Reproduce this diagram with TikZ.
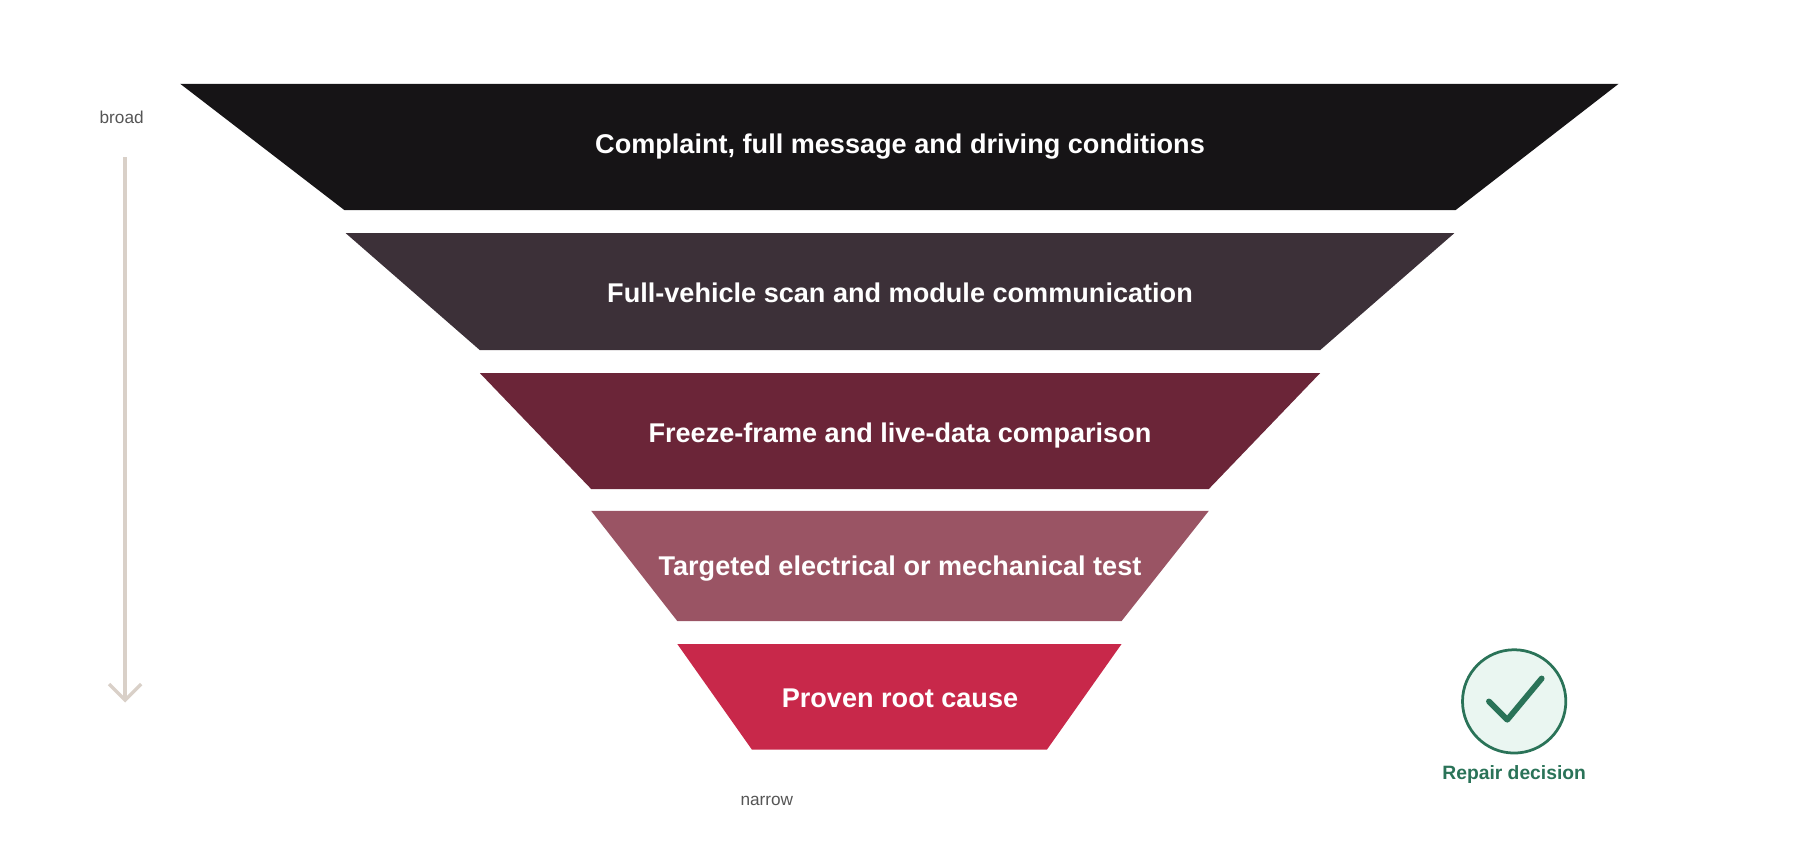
\documentclass[tikz,border=0pt]{standalone}
\usepackage{fontspec}
\setmainfont{Liberation Sans}
\usetikzlibrary{arrows.meta}
\definecolor{lvA}{HTML}{161416}
\definecolor{lvB}{HTML}{3C3038}
\definecolor{lvC}{HTML}{6B2538}
\definecolor{lvD}{HTML}{9A5464}
\definecolor{lvE}{HTML}{C8284A}
\definecolor{axisC}{HTML}{D9D0C8}
\definecolor{okC}{HTML}{2A7358}
\definecolor{okF}{HTML}{EAF6F1}
\definecolor{greyT}{HTML}{555555}
\tikzset{
  level/.style={text=white, font=\fontsize{11.8}{14}\selectfont\bfseries},
  side/.style={text=greyT, font=\fontsize{7.5}{9}\selectfont}
}
\begin{document}
\begin{tikzpicture}[x=0.5pt,y=-0.5pt]
      \useasboundingbox (0,0) rectangle (1568,732);
      % Funnel levels
      \fill[lvA] (157,73) -- (1410,73) -- (1268,183) -- (300,183) -- cycle;
      \fill[lvB] (301,203) -- (1267,203) -- (1150,305) -- (418,305) -- cycle;
      \fill[lvC] (418,325) -- (1150,325) -- (1053,426) -- (515,426) -- cycle;
      \fill[lvD] (515,445) -- (1053,445) -- (977,541) -- (590,541) -- cycle;
      \fill[lvE] (590,561) -- (977,561) -- (912,653) -- (655,653) -- cycle;
      \node[level] (L1) at (784,128) {Complaint, full message and driving conditions};
      \node[level] (L2) at (784,255) {Full-vehicle scan and module communication};
      \node[level] (L3) at (784,379) {Freeze-frame and live-data comparison};
      \node[level] (L4) at (784,495) {Targeted electrical or mechanical test};
      \node[level] (L5) at (784,608) {Proven root cause};
      % Side axis
      \node[side] (broad) at (106,102) {broad};
      \node[side] (narrow) at (668,698) {narrow};
      \coordinate (top) at (109,137);
      \coordinate (bot) at (109,612);
      \draw[axisC, line width=1.5pt, -{Straight Barb[length=7pt, width=14pt]}] (top) -- (bot);
      % Repair decision
      \node[draw=okC, fill=okF, circle, line width=1.2pt, minimum size=45pt] (ok) at (1319,611) {};
      \draw[okC, line width=2.5pt, line cap=round, line join=round]
        ([shift={(-22,0)}]ok.center) -- ([shift={(-6,16)}]ok.center) -- ([shift={(24,-20)}]ok.center);
      \node[text=okC, font=\fontsize{8.4}{10}\selectfont\bfseries] (dec) at (1319,675) {Repair decision};
\end{tikzpicture}
\end{document}
